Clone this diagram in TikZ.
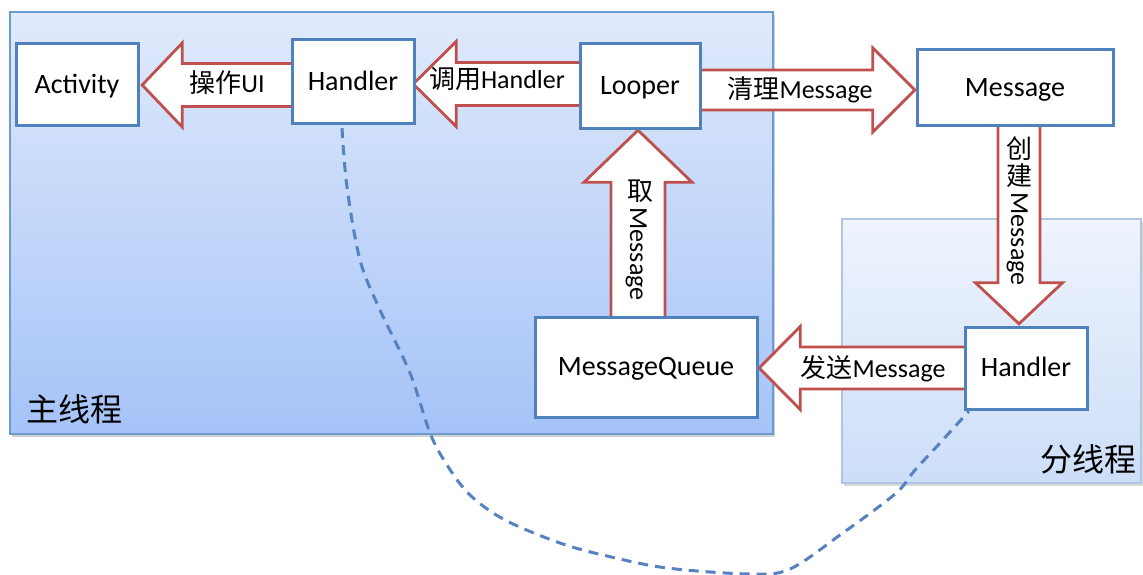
\documentclass[tikz,border=0pt]{standalone}
\usepackage{fontspec}
\setmainfont{Carlito}
\newfontfamily\cjk{Noto Sans CJK SC}
\usetikzlibrary{calc,shadows}

\definecolor{boxblue}{HTML}{4F81BD}
\definecolor{arrowred}{HTML}{C0504D}
\definecolor{mainedge}{HTML}{6E9AD2}
\definecolor{maintop}{HTML}{E0EAFB}
\definecolor{mainbot}{HTML}{A5C3F8}
\definecolor{subedge}{HTML}{AFC5E6}
\definecolor{subtop}{HTML}{EFF4FD}
\definecolor{subbot}{HTML}{CCDEF8}
\definecolor{linkblue}{HTML}{5682C2}

% block arrow: #1 start, #2 tip, #3 shaft half-width, #4 head half-width, #5 head length
\newcommand\blockarrow[5]{%
  \coordinate (bab) at ($(#2)!#5pt!(#1)$);
  \draw[blockarr]
    ($(#1)!#3pt!90:(#2)$) -- ($(bab)!#3pt!90:(#2)$) -- ($(bab)!#4pt!90:(#2)$)
    -- (#2)
    -- ($(bab)!#4pt!-90:(#2)$) -- ($(bab)!#3pt!-90:(#2)$) -- ($(#1)!#3pt!-90:(#2)$)
    -- cycle;
}

\tikzset{
  box/.style={draw=boxblue, line width=3pt, fill=white, inner sep=0pt,
    font=\fontsize{28}{30}\selectfont, text height=19pt, text depth=2pt},
  blockarr/.style={draw=arrowred, line width=2.8pt, fill=white, line join=miter},
  lbl/.style={inner sep=0pt, font=\fontsize{26}{28}\selectfont,
    text height=18pt, text depth=2pt},
  vlbl/.style={inner sep=0pt, font=\fontsize{26}{28}\selectfont,
    text height=18pt, text depth=2pt},
  tlabel/.style={inner sep=0pt, font=\cjk\fontsize{32}{34}\selectfont},
  mainthread/.style={draw=mainedge, line width=1.5pt, top color=maintop,
    bottom color=mainbot, inner sep=0pt,
    drop shadow={shadow xshift=2pt, shadow yshift=-3pt, opacity=0.3, fill=black!60}},
  subthread/.style={draw=subedge, line width=1.5pt, top color=subtop,
    bottom color=subbot, inner sep=0pt,
    drop shadow={shadow xshift=2pt, shadow yshift=-3pt, opacity=0.25, fill=black!60}},
  link/.style={draw=linkblue, line width=3pt, dash pattern=on 10pt off 7pt}
}

\begin{document}
\begin{tikzpicture}[x=1pt, y=-1pt]
\useasboundingbox (0,0) rectangle (1143,575);

% thread areas
\node[mainthread, minimum width=763pt, minimum height=422pt] (mt) at (391.5,223) {};
\node[subthread, minimum width=299pt, minimum height=264pt] (st) at (991.5,351) {};
\node[tlabel] (mtl) at (74,409) {主线程};
\node[tlabel] (stl) at (1088,459) {分线程};

% component boxes (positions only; drawn after the arrows)
\path
  node[minimum width=122pt, minimum height=82pt] (act) at (77,85) {}
  node[minimum width=122pt, minimum height=84pt] (h1) at (353,82) {}
  node[minimum width=120pt, minimum height=85pt] (loop) at (640,86.5) {}
  node[minimum width=196pt, minimum height=76pt] (msg) at (1015,88) {}
  node[minimum width=222pt, minimum height=100pt] (mq) at (646,367) {}
  node[minimum width=122pt, minimum height=82pt] (h2) at (1026,368) {};

% arrow tips and starts
\coordinate (a1t) at ($(act.east)+(4,0)$);
\coordinate (a1s) at (h1.center |- a1t);
\coordinate (a2t) at ($(h1.east)+(-1,2)$);
\coordinate (a2s) at (loop.center |- a2t);
\coordinate (a3t) at ($(msg.west)+(-2,2)$);
\coordinate (a3s) at (loop.center |- a3t);
\coordinate (a4t) at ($(loop.south)+(-2,1)$);
\coordinate (a4s) at (mq.center -| a4t);
\coordinate (a5t) at ($(h2.north)+(-7,-3)$);
\coordinate (a5s) at (msg.center -| a5t);
\coordinate (a6t) at ($(mq.east)+(2,1)$);
\coordinate (a6s) at (h2.center |- a6t);

\blockarrow{a1s}{a1t}{21.5}{42}{40}
\blockarrow{a2s}{a2t}{21.5}{42.5}{43}
\blockarrow{a3s}{a3t}{20}{42}{42}
\blockarrow{a4s}{a4t}{27}{54}{52}
\blockarrow{a5s}{a5t}{21}{43.5}{41}
\blockarrow{a6s}{a6t}{21}{41.5}{41}

% arrow labels
\node[lbl] (t1) at (227,85) {{\cjk 操作}UI};
\node[lbl] (t2) at (497,81) {{\cjk 调用}Handler};
\node[lbl] (t3) at (800,91) {{\cjk 清理}Message};
\node[lbl] (t6) at (873,369) {{\cjk 发送}Message};
\node[vlbl] (t4a) at (640,192) {\cjk 取};
\node[vlbl, rotate=-90] (t4b) at (638,254) {Message};
\node[vlbl] (t5a) at (1019,151) {\cjk 创};
\node[vlbl] (t5b) at (1019,177) {\cjk 建};
\node[vlbl, rotate=-90] (t5c) at (1019,239) {Message};

% boxes
\node[box, minimum width=122pt, minimum height=82pt] at (act) {Activity};
\node[box, minimum width=122pt, minimum height=84pt] at (h1) {Handler};
\node[box, minimum width=120pt, minimum height=85pt] at (loop) {Looper};
\node[box, minimum width=196pt, minimum height=76pt] at (msg) {Message};
\node[box, minimum width=222pt, minimum height=100pt] at (mq) {MessageQueue};
\node[box, minimum width=122pt, minimum height=82pt] at (h2) {Handler};

% dashed link between the two handlers
\coordinate (hs) at ($(h1.south)+(-11,4)$);
\coordinate (he) at ($(h2.south west)+(4,2)$);
\draw[link] plot[smooth, tension=0.55] coordinates {
  (hs) (347,187) (360,260) (380,310) (410,373) (430,433) (447,465) (470,495)
  (505,520) (560,543) (607,556) (667,568) (750,574) (790,569) (840,535)
  (895,494) (915,470) (940,443) (he)};
\end{tikzpicture}
\end{document}
